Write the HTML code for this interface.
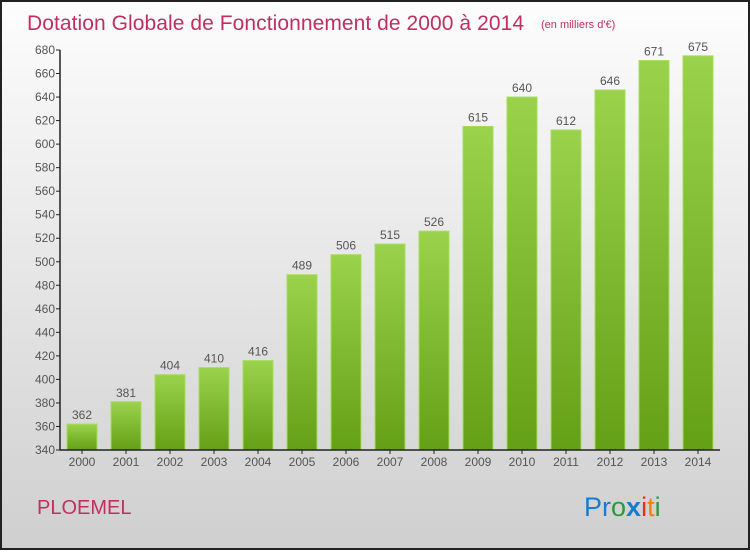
<!DOCTYPE html>
<html><head><meta charset="utf-8"><style>
body{margin:0;width:750px;height:550px;overflow:hidden;font-family:"Liberation Sans",sans-serif}
</style></head><body>
<svg width="750" height="550">
<defs>
<linearGradient id="bg" x1="0" y1="0" x2="0" y2="1"><stop offset="0" stop-color="#fdfdfd"/><stop offset="1" stop-color="#cfcfcf"/></linearGradient>
<linearGradient id="bar" x1="0" y1="0" x2="0" y2="1"><stop offset="0" stop-color="#9ad24c"/><stop offset="1" stop-color="#64a017"/></linearGradient>
</defs>
<rect x="1" y="1" width="748" height="548" fill="url(#bg)" stroke="#222" stroke-width="2"/>
<text x="27" y="30" font-size="21" fill="#c0305f" textLength="497">Dotation Globale de Fonctionnement de 2000 à 2014</text>
<text x="541" y="28" font-size="11" fill="#c0305f">(en milliers d'€)</text>
<g id="plot"></g>
<text x="37" y="514" font-size="20" fill="#c0305f">PLOEMEL</text>
<text x="584" y="516" font-size="27"><tspan fill="#1a7ad0">Pr</tspan><tspan fill="#2a9a3a">o</tspan><tspan fill="#1a7ad0" font-weight="bold">x</tspan><tspan fill="#e03020">i</tspan><tspan fill="#f08010">t</tspan><tspan fill="#2a9a3a">i</tspan></text>
</svg>
<script>
const years=["2000","2001","2002","2003","2004","2005","2006","2007","2008","2009","2010","2011","2012","2013","2014"];
const values=[362,381,404,410,416,489,506,515,526,615,640,612,646,671,675];
const ticks=[340,360,380,400,420,440,460,480,500,520,540,560,580,600,620,640,660,680];
const ns="http://www.w3.org/2000/svg";
const g=document.getElementById("plot");
const y0=450,y1=50,vmin=340,vmax=680,x0=60,slot=44;
const Y=v=>y0-(v-vmin)*(y0-y1)/(vmax-vmin);
function mk(t,a,txt){const e=document.createElementNS(ns,t);for(const k in a)e.setAttribute(k,a[k]);if(txt!==undefined)e.textContent=txt;g.appendChild(e);return e;}
ticks.forEach(t=>{
 let l=mk("line",{x1:x0-4,x2:x0,y1:Y(t),y2:Y(t),stroke:"#222"});
 
 
 let s=mk("text",{x:x0-5,y:Y(t)+4,"font-size":12,fill:"#555","text-anchor":"end"},t);
 
 
});
values.forEach((v,i)=>{
 const x=x0+i*slot+7;
 let r=mk("rect",{x:x,y:Y(v),width:30,height:y0-Y(v),fill:"url(#bar)",stroke:"#a6dc5c","stroke-width":1});
 
 
 let t=mk("text",{x:x+15,y:Y(v)-5,"font-size":12,fill:"#555","text-anchor":"middle"},v);
 
 
 let xl=mk("text",{x:x+15,y:466,"font-size":12,fill:"#555","text-anchor":"middle"},years[i]);
 
 
 let tk=mk("line",{x1:x+15,x2:x+15,y1:y0,y2:y0+4,stroke:"#222"});
 
 
});
let ya=mk("line",{x1:x0,x2:x0,y1:y1,y2:y0,stroke:"#222","stroke-width":1.5});


let xa=mk("line",{x1:x0,x2:720,y1:y0,y2:y0,stroke:"#222","stroke-width":1.5});


</script>
</body></html>
